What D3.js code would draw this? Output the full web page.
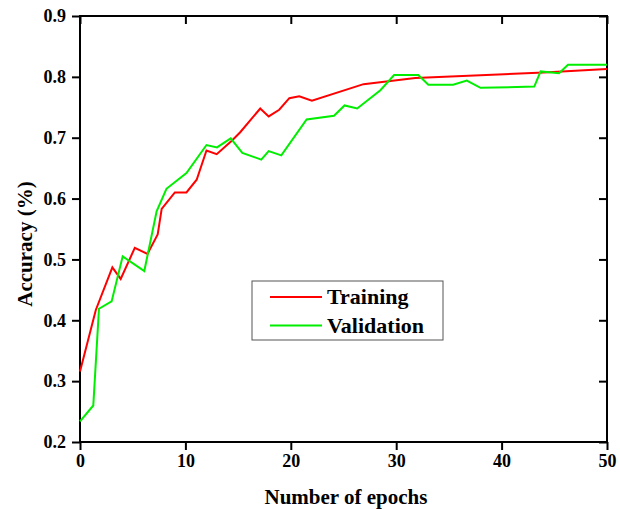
<!DOCTYPE html>
<html>
<head>
<meta charset="utf-8">
<script src="https://cdn.jsdelivr.net/npm/d3@7"></script>
<style>
  body { margin: 0; background: #fff; }
  text { font-family: "Liberation Serif", "Times New Roman", serif; font-weight: bold; }
</style>
</head>
<body>
<svg id="chart" width="620" height="509"></svg>
<script>
// data
var trainEpochs = [0, 1.5, 3.07, 3.86, 5.2, 6.4, 7.37, 7.75, 9.0, 10.1, 11.07, 12.0, 12.97, 14.4, 15.2, 17.1, 17.9, 18.9, 19.86, 20.8, 22.0, 26.9, 31.8, 44, 50];
var trainAcc    = [0.316, 0.417, 0.487, 0.468, 0.519, 0.509, 0.541, 0.583, 0.610, 0.610, 0.631, 0.679, 0.673, 0.695, 0.709, 0.748, 0.735, 0.746, 0.765, 0.768, 0.761, 0.788, 0.798, 0.807, 0.813];

var valEpochs = [0, 1.26, 1.8, 3.0, 4.05, 6.1, 7.27, 8.2, 10.1, 12.0, 13.0, 14.3, 15.4, 17.2, 17.9, 19.1, 21.5, 24.1, 25.1, 26.3, 28.5, 29.8, 32.1, 33.05, 35.4, 36.7, 38.0, 43.1, 43.7, 45.45, 46.3, 50];
var valAcc    = [0.234, 0.260, 0.419, 0.431, 0.505, 0.481, 0.579, 0.616, 0.642, 0.688, 0.684, 0.699, 0.675, 0.664, 0.678, 0.671, 0.730, 0.736, 0.753, 0.748, 0.778, 0.803, 0.803, 0.787, 0.787, 0.794, 0.782, 0.784, 0.809, 0.806, 0.820, 0.820];

var xTicks = [0, 10, 20, 30, 40, 50];
var yTicks = [0.2, 0.3, 0.4, 0.5, 0.6, 0.7, 0.8, 0.9];

var seriesNames = ["Training", "Validation"];
var seriesColors = ["#ff0000", "#00ee00"];

var margin = {left: 80, right: 13, top: 16, bottom: 67};
var width = 620 - margin.left - margin.right;
var height = 509 - margin.top - margin.bottom;

var svg = d3.select("#chart");
var g = svg.append("g").attr("transform", "translate(" + margin.left + "," + margin.top + ")");

var x = d3.scaleLinear().domain([0, 50]).range([0, width]);
var y = d3.scaleLinear().domain([0.2, 0.9]).range([height, 0]);

// axes (bottom/left ticks outward, top/right ticks inward)
var xAxis = g.append("g").attr("transform", "translate(0," + height + ")")
  .call(d3.axisBottom(x).tickValues(xTicks).tickSize(8).tickPadding(4).tickFormat(d3.format("d")));
var yAxis = g.append("g")
  .call(d3.axisLeft(y).tickValues(yTicks).tickSize(8).tickPadding(6).tickFormat(d3.format(".1f")));
var xTop = g.append("g")
  .call(d3.axisBottom(x).tickValues(xTicks).tickSize(8).tickFormat(""));
var yRight = g.append("g").attr("transform", "translate(" + width + ",0)")
  .call(d3.axisLeft(y).tickValues(yTicks).tickSize(8).tickFormat(""));

[xAxis, yAxis, xTop, yRight].forEach(function(a){
  a.selectAll("path, line").attr("stroke", "#000").attr("stroke-width", 2);
  a.select(".domain").attr("d", null);
  a.selectAll("text").attr("fill", "#000").style("font-size", "18px");
});
g.append("rect").attr("width", width).attr("height", height)
  .attr("fill", "none").attr("stroke", "#000").attr("stroke-width", 2);

// lines
var line = d3.line().x(function(d){ return x(d[0]); }).y(function(d){ return y(d[1]); });
var trainData = trainEpochs.map(function(e, i){ return [e, trainAcc[i]]; });
var valData = valEpochs.map(function(e, i){ return [e, valAcc[i]]; });

g.append("path").datum(trainData).attr("d", line)
  .attr("fill", "none").attr("stroke", seriesColors[0]).attr("stroke-width", 2);
g.append("path").datum(valData).attr("d", line)
  .attr("fill", "none").attr("stroke", seriesColors[1]).attr("stroke-width", 2);

// axis titles
svg.append("text").attr("x", 346).attr("y", 504)
  .attr("text-anchor", "middle").style("font-size", "21px").text("Number of epochs");
svg.append("text").attr("transform", "translate(32,244) rotate(-90)")
  .attr("text-anchor", "middle").style("font-size", "21px").text("Accuracy (%)");

// legend
var leg = svg.append("g").attr("transform", "translate(252,281)");
leg.append("rect").attr("width", 191).attr("height", 59)
  .attr("fill", "#fff").attr("stroke", "#555").attr("stroke-width", 1);
seriesNames.forEach(function(name, i){
  var yy = 16 + i * 28.5;
  leg.append("line").attr("x1", 18).attr("x2", 70).attr("y1", yy).attr("y2", yy)
    .attr("stroke", seriesColors[i]).attr("stroke-width", 2);
  leg.append("text").attr("x", 75).attr("y", yy + 7).style("font-size", "22px").text(name);
});
</script>
</body>
</html>
